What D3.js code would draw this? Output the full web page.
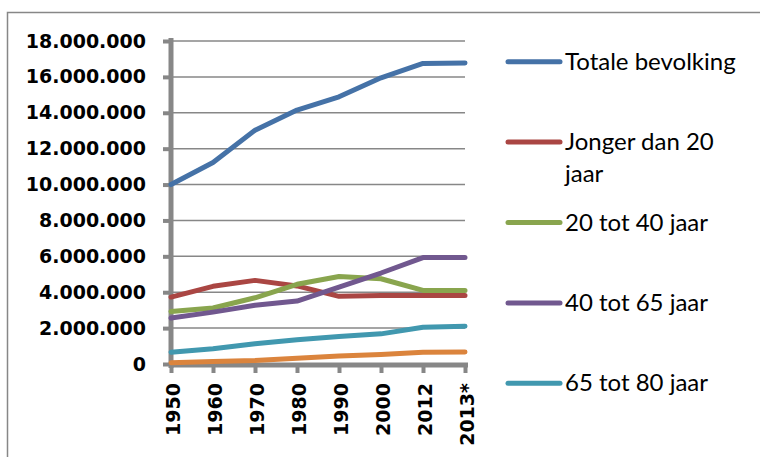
<!DOCTYPE html>
<html>
<head>
<meta charset="utf-8">
<script src="https://cdn.jsdelivr.net/npm/d3@7"></script>
<style>
  html, body { margin: 0; padding: 0; background: #ffffff; }
  svg { display: block; }
</style>
</head>
<body>
<div id="chart"></div>
<script>
// Bevolking van Nederland naar leeftijdsgroep
const years = ["1950", "1960", "1970", "1980", "1990", "2000", "2012", "2013*"];

const totaleBevolking = [10000000, 11230000, 13030000, 14150000, 14890000, 15950000, 16750000, 16780000];
const jongerDan20     = [3730000, 4330000, 4660000, 4350000, 3770000, 3820000, 3820000, 3820000];
const tot20tot40      = [2930000, 3120000, 3690000, 4440000, 4880000, 4750000, 4100000, 4100000];
const tot40tot65      = [2560000, 2890000, 3270000, 3510000, 4290000, 5070000, 5930000, 5930000];
const tot65tot80      = [660000, 850000, 1130000, 1350000, 1530000, 1680000, 2050000, 2110000];
const ouderDan80      = [70000, 140000, 200000, 320000, 440000, 530000, 660000, 670000];

const seriesNames  = ["Totale bevolking", "Jonger dan 20 jaar", "20 tot 40 jaar", "40 tot 65 jaar", "65 tot 80 jaar", "80 jaar en ouder"];
const seriesColors = ["#4572A7", "#AA4643", "#89A54E", "#71588F", "#4198AF", "#DB843D"];
const seriesValues = [totaleBevolking, jongerDan20, tot20tot40, tot40tot65, tot65tot80, ouderDan80];

// legend entries shown (first five series); label line breaks
const legendLabels = [["Totale bevolking"], ["Jonger dan 20", "jaar"], ["20 tot 40 jaar"], ["40 tot 65 jaar"], ["65 tot 80 jaar"]];

const yTicks = [0, 2000000, 4000000, 6000000, 8000000, 10000000, 12000000, 14000000, 16000000, 18000000];

const W = 760, H = 457;
const axisColor = "#878787";

const svg = d3.select("#chart").append("svg")
  .attr("width", W).attr("height", H);

// outer chart frame
svg.append("rect")
  .attr("x", 7.5).attr("y", 12.5)
  .attr("width", 800).attr("height", 500)
  .attr("fill", "none").attr("stroke", axisColor).attr("stroke-width", 1.5);

const x = d3.scalePoint().domain(years).range([171, 465]);
const y = d3.scaleLinear().domain([0, 18000000]).range([364, 41]);

const nl = d3.formatLocale({ decimal: ",", thousands: ".", grouping: [3], currency: ["€", ""] });
const fmt = nl.format(",d");

// horizontal gridlines
svg.append("g").selectAll("line")
  .data(yTicks.filter(d => d > 0))
  .join("line")
  .attr("x1", 171).attr("x2", 465)
  .attr("y1", d => y(d)).attr("y2", d => y(d))
  .attr("stroke", axisColor).attr("stroke-width", 1.5);

// y axis
const yAxis = svg.append("g")
  .attr("transform", "translate(171,0)")
  .call(d3.axisLeft(y).tickValues(yTicks).tickFormat(fmt).tickSize(8).tickPadding(17));
yAxis.select(".domain").attr("stroke", axisColor).attr("stroke-width", 5)
  .attr("d", "M0,38V368");
yAxis.selectAll(".tick line").attr("stroke", axisColor).attr("stroke-width", 4);
yAxis.selectAll(".tick text")
  .attr("fill", "#000")
  .style("font-family", "'DejaVu Sans', sans-serif")
  .style("font-weight", "bold")
  .style("font-size", "19px");

// x axis
const xAxis = svg.append("g")
  .attr("transform", `translate(0,${y(0) + 1})`)
  .call(d3.axisBottom(x).tickSize(8).tickPadding(0));
xAxis.select(".domain").attr("stroke", axisColor).attr("stroke-width", 5)
  .attr("d", "M169,0H468");
xAxis.selectAll(".tick line").attr("stroke", axisColor).attr("stroke-width", 4);
xAxis.selectAll(".tick text")
  .attr("fill", "#000")
  .attr("transform", "translate(2,18) rotate(-90)")
  .attr("x", 0).attr("y", 0).attr("dy", "0.35em")
  .attr("text-anchor", "end")
  .style("font-family", "'DejaVu Sans', sans-serif")
  .style("font-weight", "bold")
  .style("font-size", "19px");

// data lines
const line = d3.line()
  .x((d, i) => x(years[i]))
  .y(d => y(d));

svg.append("g").selectAll("path")
  .data(seriesValues)
  .join("path")
  .attr("d", d => line(d))
  .attr("fill", "none")
  .attr("stroke", (d, i) => seriesColors[i])
  .attr("stroke-width", 5)
  .attr("stroke-linecap", "round")
  .attr("stroke-linejoin", "round");

// legend
const legend = svg.append("g");
legendLabels.forEach((lbl, i) => {
  const cy = 61.7 + i * 80.4;
  legend.append("line")
    .attr("x1", 508).attr("x2", 560)
    .attr("y1", cy).attr("y2", cy)
    .attr("stroke", seriesColors[i])
    .attr("stroke-width", 5)
    .attr("stroke-linecap", "round");
  const t = legend.append("text")
    .attr("x", 565).attr("y", cy + 8)
    .attr("fill", "#000")
    .style("font-family", "Lato, sans-serif")
    .style("font-size", "24px");
  lbl.forEach((s, j) => {
    t.append("tspan").attr("x", 565).attr("dy", j === 0 ? 0 : 31.7).text(s);
  });
});
</script>
</body>
</html>
